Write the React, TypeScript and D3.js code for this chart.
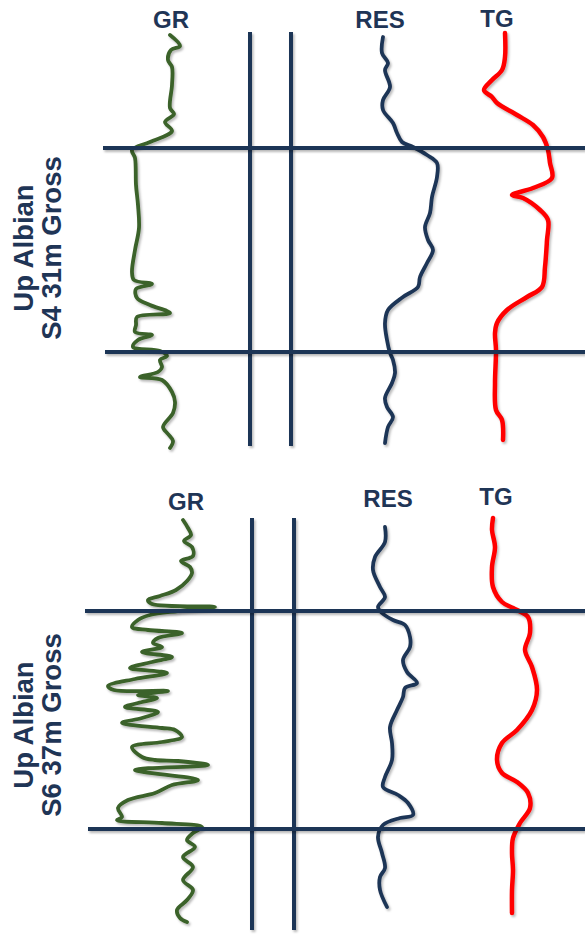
import React from 'react';
import * as d3 from 'd3';

// [depth, reading] pairs, depth counted down from the top of each panel
type Pt = [number, number];

const trackNames = ['GR', 'RES', 'TG'];
const zoneLine1 = ['Up Albian', 'Up Albian'];
const zoneLine2 = ['S4 31m Gross', 'S6 37m Gross'];
const zoneTops = [[118, 322], [96, 314]];

const s4Gr: Pt[] = [
  [5, 75], [16, 85], [20, 76], [30, 73], [37, 77], [55, 77], [78, 75], [84, 79], [92, 70], [101, 77],
  [112, 55], [120, 37], [128, 40], [155, 41], [175, 43], [198, 44], [220, 40], [242, 37], [250, 39],
  [254, 57], [259, 41], [268, 42], [275, 55], [283, 75], [287, 42], [295, 41], [302, 40], [305, 57],
  [310, 43], [317, 38], [321, 65], [326, 72], [330, 65], [337, 67], [342, 63], [347, 45], [350, 67],
  [362, 77], [372, 80], [383, 78], [397, 68], [404, 73], [411, 78], [418, 75],
];
const s4Res: Pt[] = [
  [7, 23], [23, 22], [33, 28], [40, 25], [57, 30], [70, 23], [80, 23], [93, 33], [103, 37], [112, 42],
  [117, 53], [125, 67], [133, 77], [147, 77], [167, 72], [183, 70], [197, 65], [210, 68], [220, 73],
  [233, 67], [247, 60], [257, 58], [267, 43], [280, 28], [293, 25], [310, 27], [323, 30], [330, 33],
  [343, 35], [353, 32], [368, 25], [377, 27], [387, 33], [397, 28], [413, 25],
];
const s4Tg: Pt[] = [
  [3, 35], [27, 35], [40, 32], [50, 22], [60, 14], [67, 22], [73, 27], [85, 47], [95, 63], [107, 73],
  [120, 78], [133, 80], [148, 82], [158, 63], [165, 42], [168, 53], [180, 70], [190, 78], [210, 77],
  [237, 75], [257, 72], [267, 57], [280, 37], [293, 27], [303, 25], [320, 26], [353, 25], [380, 26],
  [390, 32], [410, 33],
];

const s6Gr: Pt[] = [
  [5, 88], [13, 93], [20, 96], [26, 89], [32, 97], [41, 98], [46, 86], [52, 95], [58, 97], [66, 92],
  [75, 81], [81, 65], [85, 53], [89, 57], [92, 120], [96, 83], [100, 55], [105, 43], [112, 37], [115, 53],
  [118, 87], [123, 63], [128, 58], [132, 67], [137, 47], [142, 77], [147, 57], [153, 35], [158, 72],
  [164, 40], [171, 13], [175, 19], [176, 73], [180, 43], [183, 62], [188, 43], [192, 30], [197, 63],
  [203, 47], [208, 27], [213, 67], [215, 80], [222, 87], [227, 67], [232, 37], [242, 47], [245, 60],
  [246, 83], [250, 113], [255, 40], [265, 103], [270, 77], [278, 60], [285, 33], [293, 23], [302, 27],
  [305, 22], [308, 67], [312, 107], [318, 98], [325, 92], [332, 100], [342, 88], [352, 98], [365, 88],
  [375, 98], [385, 92], [395, 82], [403, 85], [407, 92],
];
const s6Res: Pt[] = [
  [12, 25], [27, 25], [42, 15], [55, 13], [72, 20], [82, 25], [92, 18], [98, 22], [105, 33], [110, 45],
  [122, 50], [132, 50], [145, 43], [157, 47], [168, 57], [173, 45], [182, 43], [195, 37], [212, 30],
  [228, 32], [245, 32], [262, 25], [272, 23], [280, 38], [288, 48], [300, 53], [303, 40], [310, 23],
  [322, 18], [338, 22], [353, 25], [362, 20], [375, 20], [392, 27],
];
const s6Tg: Pt[] = [
  [3, 23], [15, 22], [32, 25], [52, 22], [72, 23], [87, 32], [93, 43], [102, 58], [118, 60], [135, 55],
  [152, 62], [175, 67], [195, 62], [215, 47], [228, 32], [245, 27], [258, 32], [267, 47], [278, 58],
  [293, 60], [308, 50], [323, 43], [338, 42], [355, 43], [375, 42], [398, 42],
];

const NAVY = '#1f3556';
const GREEN = '#3b6229';
const RED = '#ff0000';
const FONT = '"Liberation Sans", Arial, sans-serif';

const xGr = d3.scaleLinear().domain([0, 150]).range([95, 245]);
const xRes = d3.scaleLinear().domain([0, 100]).range([360, 460]);
const xTg = d3.scaleLinear().domain([0, 100]).range([470, 570]);

const panels = [
  {
    top: 30, bottom: 450, depth: 420, curves: [s4Gr, s4Res, s4Tg],
    tracks: [250, 291], vTop: 32, vBottom: 446, hStart: [103, 105],
    labels: [[171, 28], [380, 28], [497, 27]], titleY: 248,
  },
  {
    top: 515, bottom: 930, depth: 415, curves: [s6Gr, s6Res, s6Tg],
    tracks: [252, 294], vTop: 518, vBottom: 930, hStart: [85, 88],
    labels: [[186, 510], [388, 507], [496, 505]], titleY: 725,
  },
];

const xScales = [xGr, xRes, xTg];
const colors = [GREEN, NAVY, RED];

export default function App() {
  return (
    <svg width={585} height={935} style={{ position: 'absolute', left: 0, top: 0, background: '#fff' }}>
      <defs>
        <filter id="sh" filterUnits="userSpaceOnUse" x="0" y="0" width="585" height="935">
          <feDropShadow dx="1.5" dy="2" stdDeviation="1.2" floodColor="#000" floodOpacity="0.28" />
        </filter>
      </defs>
      {panels.map((p, pi) => {
        const y = d3.scaleLinear().domain([0, p.depth]).range([p.top, p.bottom]);
        return (
          <g key={pi}>
            {p.tracks.map((tx, i) => (
              <line key={'v' + i} x1={tx} x2={tx} y1={p.vTop} y2={p.vBottom}
                stroke={NAVY} strokeWidth={4} filter="url(#sh)" />
            ))}
            {p.curves.map((c, ci) => {
              const line = d3.line<Pt>()
                .x(d => xScales[ci](d[1]))
                .y(d => y(d[0]))
                .curve(d3.curveCatmullRom.alpha(0.5));
              return (
                <path key={'c' + ci} d={line(c) || ''} fill="none" stroke={colors[ci]}
                  strokeWidth={ci === 2 ? 4.5 : 3.8} strokeLinejoin="round" strokeLinecap="round"
                  filter="url(#sh)" />
              );
            })}
            {zoneTops[pi].map((d, i) => (
              <line key={'h' + i} x1={p.hStart[i]} x2={585} y1={y(d)} y2={y(d)}
                stroke={NAVY} strokeWidth={4} filter="url(#sh)" />
            ))}
            {trackNames.map((t, i) => (
              <text key={'t' + i} x={p.labels[i][0]} y={p.labels[i][1]} textAnchor="middle"
                fontFamily={FONT} fontWeight="bold" fontSize={24} fill={NAVY}>{t}</text>
            ))}
            <text transform={`translate(33,${p.titleY}) rotate(-90)`} textAnchor="middle"
              fontFamily={FONT} fontWeight="bold" fontSize={27.5} fill={NAVY}>{zoneLine1[pi]}</text>
            <text transform={`translate(61,${p.titleY}) rotate(-90)`} textAnchor="middle"
              fontFamily={FONT} fontWeight="bold" fontSize={27.5} fill={NAVY}>{zoneLine2[pi]}</text>
          </g>
        );
      })}
    </svg>
  );
}
